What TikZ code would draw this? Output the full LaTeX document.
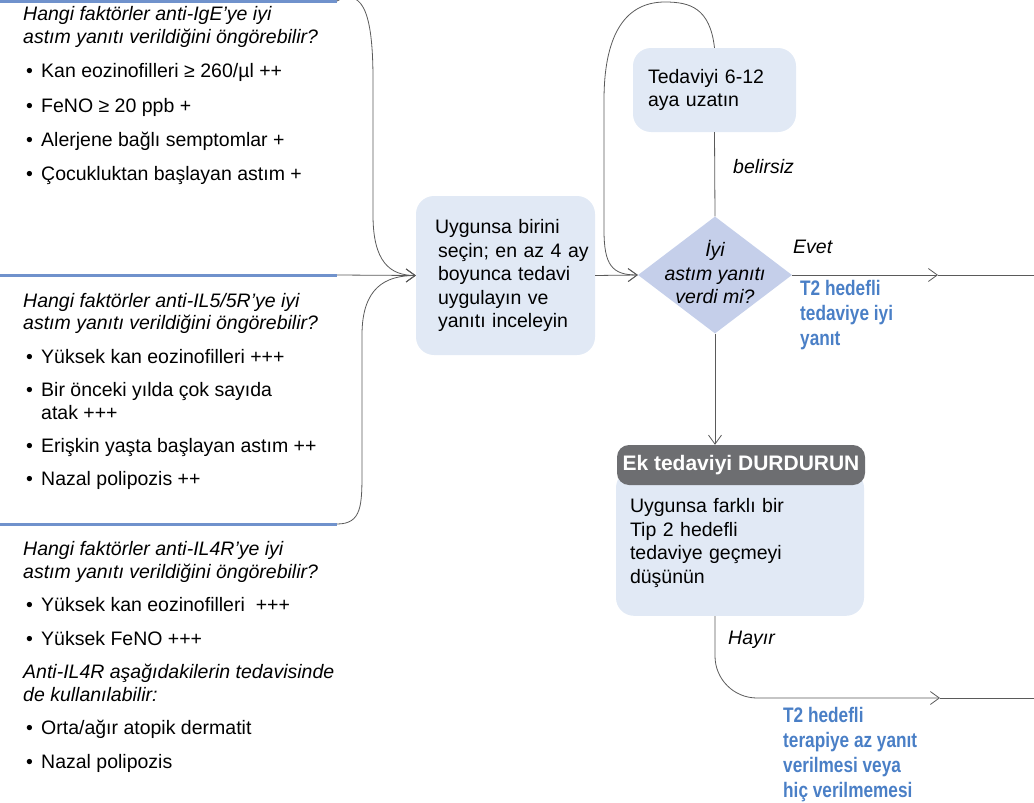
\documentclass[tikz,border=0pt]{standalone}
\usepackage{fontspec}
\setmainfont{Liberation Sans}
\newfontfamily\narrowsans[FakeStretch=0.82]{Liberation Sans}
\usetikzlibrary{positioning,shapes.geometric,arrows.meta}

\definecolor{barblue}{HTML}{7092CC}
\definecolor{boxblue}{HTML}{E1E9F5}
\definecolor{diablue}{HTML}{C5CFEA}
\definecolor{stopgray}{HTML}{6D6E71}
\definecolor{txtblue}{HTML}{4A7FC6}
\definecolor{linegray}{HTML}{5A5A5A}

\newcommand{\bl}{\makebox[18pt][l]{\hspace{3pt}•}}
\newcommand{\bodyfont}{\fontsize{19.5}{22.5}\selectfont}

\tikzset{
  sep/.style={draw=barblue, line width=3pt},
  conn/.style={draw=linegray, line width=0.8pt},
  arr/.style={conn, -{Straight Barb[length=9pt,width=13pt]}},
  factors/.style={anchor=base west, align=left, inner sep=0pt, font=\bodyfont},
  stepbox/.style={rounded corners=18pt, fill=boxblue, align=left,
    font=\fontsize{19.5}{23.5}\selectfont},
  decision/.style={diamond, fill=diablue, minimum width=154pt,
    minimum height=117pt, inner sep=0pt},
  stopbar/.style={rounded corners=12pt, fill=stopgray, text=white,
    font=\fontsize{21}{24}\selectfont\bfseries, minimum width=248pt,
    minimum height=40pt, inner sep=0pt},
  answer/.style={anchor=west, font=\bodyfont\itshape, inner sep=0pt},
  outcome/.style={anchor=base west, align=left, inner sep=0pt, text=txtblue,
    font=\narrowsans\fontsize{21}{25}\selectfont\bfseries},
}

\begin{document}
\begin{tikzpicture}[x=1pt,y=-1pt]
  \useasboundingbox (0,0) rectangle (1034,803);

  % separators on the left
  \coordinate (s1) at (337,1);
  \coordinate (s2) at (337,275);
  \coordinate (s3) at (337,524);
  \draw [sep] (0,1) -- (s1);
  \draw [sep] (0,275) -- (s2);
  \draw [sep] (0,524) -- (s3);

  % predictors (anchored on the last baseline)
  \node (ige) [factors] at (23,180) {\textit{Hangi faktörler anti-IgE’ye iyi}\\
    \textit{astım yanıtı verildiğini öngörebilir?}\\[12pt]
    \bl Kan eozinofilleri ≥ 260/µl ++\\[12pt]
    \bl FeNO ≥ 20 ppb +\\[12pt]
    \bl Alerjene bağlı semptomlar +\\[11pt]
    \bl Çocukluktan başlayan astım +};
  \node (ilfive) [factors] at (23,485) {\textit{Hangi faktörler anti-IL5/5R’ye iyi}\\
    \textit{astım yanıtı verildiğini öngörebilir?}\\[11pt]
    \bl Yüksek kan eozinofilleri +++\\[11pt]
    \bl Bir önceki yılda çok sayıda\\
    \hspace*{18pt}atak +++\\[11pt]
    \bl Erişkin yaşta başlayan astım ++\\[10pt]
    \bl Nazal polipozis ++};
  \node (ilfour) [factors] at (23,768) {\textit{Hangi faktörler anti-IL4R’ye iyi}\\
    \textit{astım yanıtı verildiğini öngörebilir?}\\[11pt]
    \bl Yüksek kan eozinofilleri~ +++\\[11pt]
    \bl Yüksek FeNO +++\\[11pt]
    \textit{Anti-IL4R aşağıdakilerin tedavisinde}\\
    \textit{de kullanılabilir:}\\[11pt]
    \bl Orta/ağır atopik dermatit\\[11pt]
    \bl Nazal polipozis};

  % flow
  \node (pick) [stepbox, text width=141pt, inner xsep=19pt, minimum height=159pt]
    at (505.5,275.5)
    {\mbox{Uygunsa birini}\\ \mbox{\hspace{3pt}seçin; en az 4 ay}\\
     \mbox{\hspace{3pt}boyunca tedavi}\\ \mbox{\hspace{3pt}uygulayın ve}\\
     \mbox{\hspace{3pt}yanıtı inceleyin}};
  \node (resp) [decision, label={[align=center, font=\fontsize{19.5}{23.5}\selectfont\itshape,
    yshift=3pt]center:İyi\\astım yanıtı\\verdi mi?}] at (715,275) {};
  \node (ext) [stepbox, text width=133pt, inner xsep=15pt, minimum height=84pt]
    at (714.5,90) {Tedaviyi 6-12\\aya uzatın};
  \node (alt) [stepbox, text width=220pt, inner xsep=14pt, minimum height=146pt,
    anchor=south] at (740,616) {Uygunsa farklı bir\\Tip 2 hedefli\\tedaviye geçmeyi\\düşünün};
  \node (stop) [stopbar] at (741,465) {Ek tedaviyi DURDURUN};

  \draw [arr] (s1) .. controls (365,-14) and (373,20) .. (373,80) -- (373,215)
    .. controls (373,262) and (390,275.5) .. (pick.west);
  \draw [arr] (s2) -- (pick.west);
  \draw [arr] (s3) .. controls (362,524) and (362,505) .. (362,470) -- (362,335)
    .. controls (362,288) and (385,275.5) .. (pick.west);
  \draw [arr] (pick.east) -- (resp.west);

  \draw [arr] (ext.north) .. controls (710,8) and (690,2) .. (665,2)
    .. controls (622,2) and (604,40) .. (604,100) -- (604,230)
    .. controls (604,265) and (612,275) .. (resp.west);
  \draw [conn] (ext.south) -- (resp.north);
  \node (unsure) [answer] at (733,167) {belirsiz};

  \coordinate (goodtip) at (938,275);
  \coordinate (goodend) at (1040,275);
  \draw [arr] (resp.east) -- (goodtip);
  \draw [conn] (goodtip) -- (goodend);
  \node (yes) [answer] at (793,247) {Evet};
  \node (goodtxt) [outcome] at (800,345) {T2 hedefli\\tedaviye iyi\\yanıt};

  \draw [arr] (resp.south) -- (resp.south |- stop.north);

  \coordinate (poortip) at (940,698);
  \coordinate (poorend) at (1040,698);
  \draw [arr, rounded corners=42pt] (resp.south |- alt.south) |- (poortip);
  \draw [conn] (poortip) -- (poorend);
  \node (no) [answer] at (728,640) {Hayır};
  \node (poortxt) [outcome] at (783,797) {T2 hedefli\\terapiye az yanıt\\verilmesi veya\\hiç verilmemesi};

\end{tikzpicture}
\end{document}
